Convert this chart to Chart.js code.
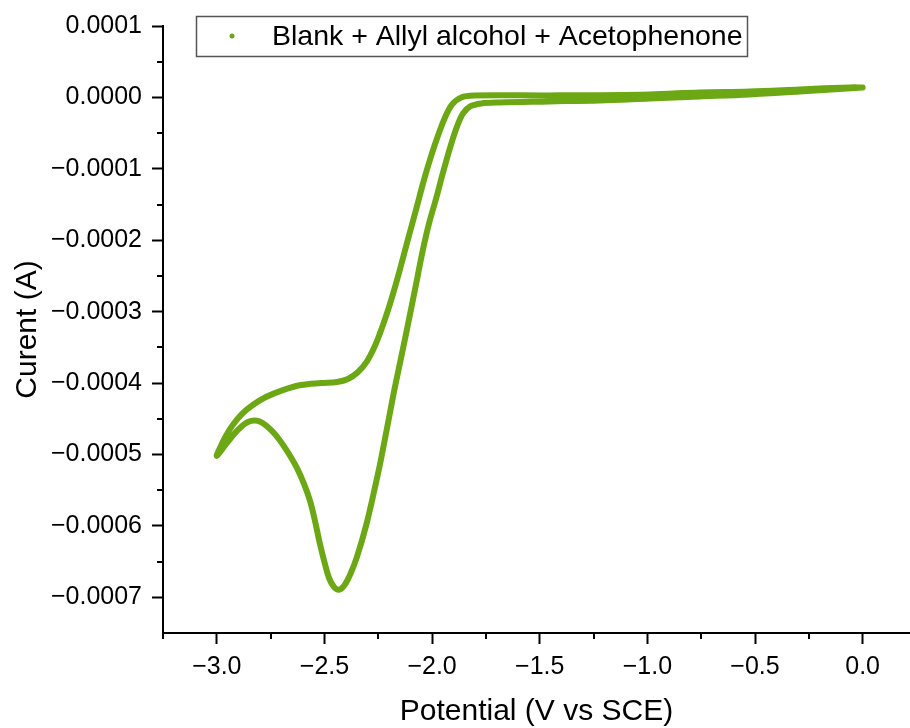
<!DOCTYPE html>
<html>
<head>
<meta charset="utf-8">
<script src="https://cdn.jsdelivr.net/npm/chart.js@4"></script>
<style>
    html, body { margin: 0; padding: 0; background: #fff; }
</style>
</head>
<body>
<canvas id="cv-chart" width="910" height="728"></canvas>
<script>
const seriesLabel = 'Blank + Allyl alcohol + Acetophenone';
const lineColor = '#6ba814';

// cathodic sweep, 0 V -> -3 V
const forwardPotential = [0.0, -0.293, -0.526, -0.758, -0.991, -1.223, -1.456, -1.688, -1.772, -1.823,
    -1.856, -1.884, -1.916, -1.949, -1.981, -2.014, -2.042, -2.079, -2.126, -2.158,
    -2.181, -2.237, -2.270, -2.307, -2.349, -2.381, -2.409, -2.433, -2.456, -2.479,
    -2.498, -2.521, -2.544, -2.567, -2.595, -2.628, -2.665, -2.712, -2.758, -2.809,
    -2.856, -2.902, -2.953, -3.0];
const forwardCurrent = [1.40e-5, 8.4e-6, 4.2e-6, 1.4e-6, -1.4e-6, -4.2e-6, -5.6e-6, -7.0e-6, -8.4e-6, -1.26e-5,
    -2.24e-5, -4.06e-5, -6.99e-5, -1.049e-4, -1.413e-4, -1.762e-4, -2.126e-4, -2.685e-4, -3.385e-4, -3.846e-4,
    -4.182e-4, -5.063e-4, -5.524e-4, -6.0e-4, -6.434e-4, -6.685e-4, -6.839e-4, -6.895e-4, -6.853e-4, -6.727e-4,
    -6.531e-4, -6.252e-4, -5.930e-4, -5.650e-4, -5.413e-4, -5.189e-4, -4.993e-4, -4.783e-4, -4.629e-4, -4.531e-4,
    -4.545e-4, -4.657e-4, -4.839e-4, -5.02e-4];

// anodic sweep, -3 V -> 0 V
const reversePotential = [-2.981, -2.958, -2.926, -2.884, -2.833, -2.772, -2.693, -2.609, -2.516, -2.442,
    -2.391, -2.344, -2.302, -2.270, -2.242, -2.214, -2.186, -2.149, -2.112, -2.074,
    -2.037, -2.005, -1.972, -1.940, -1.907, -1.865, -1.805, -1.456, -0.991, -0.758,
    -0.526, -0.293, -0.060, 0.0];
const reverseCurrent = [-4.88e-4, -4.741e-4, -4.587e-4, -4.434e-4, -4.308e-4, -4.196e-4, -4.098e-4, -4.028e-4, -4.0e-4, -3.986e-4,
    -3.944e-4, -3.846e-4, -3.692e-4, -3.510e-4, -3.301e-4, -3.063e-4, -2.797e-4, -2.406e-4, -1.986e-4, -1.566e-4,
    -1.147e-4, -8.25e-5, -5.31e-5, -2.8e-5, -9.8e-6, 0.0, 2.8e-6, 2.8e-6, 4.2e-6, 7.0e-6,
    8.4e-6, 1.12e-5, 1.4e-5, 1.4e-5];

const xMajorTicks = [-3.0, -2.5, -2.0, -1.5, -1.0, -0.5, 0.0];
const xMinorTicks = [-3.25, -2.75, -2.25, -1.75, -1.25, -0.75, -0.25];
const yMajorTicks = [0.0001, 0.0, -0.0001, -0.0002, -0.0003, -0.0004, -0.0005, -0.0006, -0.0007];
const yMinorTicks = [0.00005, -0.00005, -0.00015, -0.00025, -0.00035, -0.00045, -0.00055, -0.00065];

const fontFamily = '"Liberation Sans", Arial, sans-serif';
const fmt = (v, d) => v.toFixed(d).replace('-', '\u2212');

const points = [];
for (let i = 0; i < forwardPotential.length; i++) {
    points.push({ x: forwardPotential[i], y: forwardCurrent[i] });
}
for (let i = 0; i < reversePotential.length; i++) {
    points.push({ x: reversePotential[i], y: reverseCurrent[i] });
}

// minor ticks + boxed legend, Chart.js has neither built in
const extras = {
    id: 'extras',
    afterDraw(chart) {
        const { ctx, chartArea, scales: { x, y } } = chart;
        ctx.save();
        ctx.strokeStyle = '#000';
        ctx.lineWidth = 2;
        ctx.beginPath();
        xMinorTicks.forEach(v => {
            const px = Math.round(x.getPixelForValue(v));
            ctx.moveTo(px, chartArea.bottom);
            ctx.lineTo(px, chartArea.bottom + 6);
        });
        yMinorTicks.forEach(v => {
            const py = Math.round(y.getPixelForValue(v));
            ctx.moveTo(chartArea.left, py);
            ctx.lineTo(chartArea.left - 6, py);
        });
        ctx.stroke();

        ctx.strokeStyle = '#555';
        ctx.lineWidth = 1.5;
        ctx.strokeRect(196.5, 16.5, 551, 40);
        ctx.fillStyle = lineColor;
        ctx.beginPath();
        ctx.arc(232, 36, 2.5, 0, Math.PI * 2);
        ctx.fill();
        ctx.fillStyle = '#000';
        ctx.font = '28.5px ' + fontFamily;
        ctx.textBaseline = 'middle';
        ctx.fillText(seriesLabel, 272, 37);
        ctx.restore();
    }
};

const ctx = document.getElementById('cv-chart').getContext('2d');
new Chart(ctx, {
    type: 'scatter',
    data: {
        datasets: [{
            label: seriesLabel,
            data: points,
            showLine: true,
            borderColor: lineColor,
            backgroundColor: lineColor,
            borderWidth: 6,
            borderCapStyle: 'round',
            borderJoinStyle: 'round',
            pointRadius: 0,
            tension: 0.35,
        }]
    },
    options: {
        responsive: false,
        animation: false,
        layout: { padding: { top: 26, right: 0, bottom: 0, left: 0 } },
        scales: {
            x: {
                type: 'linear',
                min: -3.25,
                max: 0.22,
                afterBuildTicks: s => { s.ticks = xMajorTicks.map(v => ({ value: v })); },
                afterFit: s => { s.height = 95; },
                grid: { drawOnChartArea: false, tickLength: 11, tickWidth: 2, tickColor: '#000' },
                border: { display: true, color: '#000', width: 2 },
                ticks: {
                    color: '#000',
                    padding: 8,
                    font: { family: fontFamily, size: 25 },
                    callback: v => fmt(v, 1)
                },
                title: {
                    display: true,
                    text: 'Potential (V vs SCE)',
                    color: '#000',
                    padding: { top: 0, bottom: 0 },
                    font: { family: fontFamily, size: 30, lineHeight: 1.1 }
                }
            },
            y: {
                type: 'linear',
                min: -0.00075,
                max: 0.0001,
                afterBuildTicks: s => { s.ticks = yMajorTicks.map(v => ({ value: v })); },
                afterFit: s => { s.width = 163; },
                grid: { drawOnChartArea: false, tickLength: 11, tickWidth: 2, tickColor: '#000' },
                border: { display: true, color: '#000', width: 2 },
                ticks: {
                    color: '#000',
                    padding: 10,
                    font: { family: fontFamily, size: 25 },
                    callback: v => fmt(v, 4)
                },
                title: {
                    display: true,
                    text: 'Curent (A)',
                    color: '#000',
                    padding: { top: 10, bottom: 0 },
                    font: { family: fontFamily, size: 30 }
                }
            }
        },
        plugins: {
            legend: { display: false },
            tooltip: { enabled: false }
        }
    },
    plugins: [extras]
});
</script>
</body>
</html>
